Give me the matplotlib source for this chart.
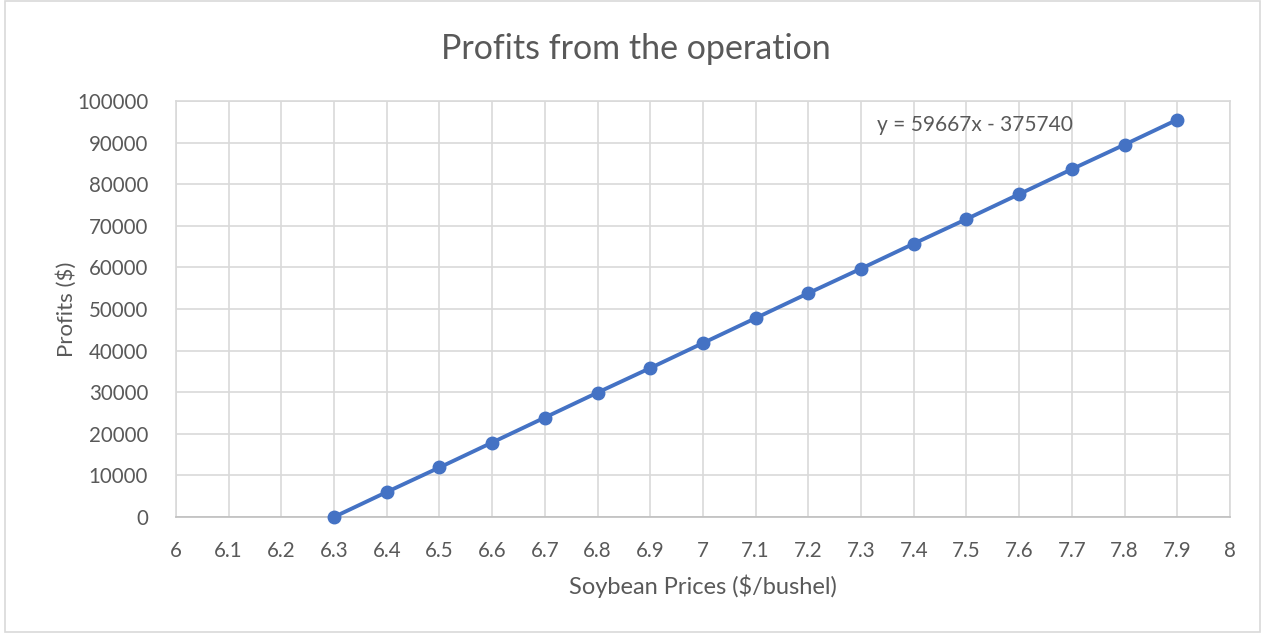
import matplotlib
matplotlib.use("Agg")
import matplotlib.pyplot as plt
from matplotlib.patches import Rectangle

prices = [6.3, 6.4, 6.5, 6.6, 6.7, 6.8, 6.9, 7.0, 7.1, 7.2, 7.3, 7.4, 7.5, 7.6, 7.7, 7.8, 7.9]
profits = [0, 6000, 11900, 17900, 23900, 29900, 35800, 41800, 47800, 53800,
           59700, 65700, 71600, 77600, 83600, 89500, 95500]
x_ticks = [6.0, 6.1, 6.2, 6.3, 6.4, 6.5, 6.6, 6.7, 6.8, 6.9, 7.0, 7.1, 7.2, 7.3, 7.4, 7.5, 7.6, 7.7, 7.8, 7.9, 8.0]
x_labels = ["6", "6.1", "6.2", "6.3", "6.4", "6.5", "6.6", "6.7", "6.8", "6.9", "7",
            "7.1", "7.2", "7.3", "7.4", "7.5", "7.6", "7.7", "7.8", "7.9", "8"]
y_ticks = [0, 10000, 20000, 30000, 40000, 50000, 60000, 70000, 80000, 90000, 100000]

plt.rcParams['font.family'] = ['Lato', 'DejaVu Sans']
text_color = '#595959'
grid_color = '#d9d9d9'
line_color = '#4472C4'

fig = plt.figure(figsize=(12.65, 6.33), dpi=100)
fig.patches.append(Rectangle((0.004, 0.002), 0.992, 0.996, transform=fig.transFigure,
                             fill=False, edgecolor=grid_color, linewidth=1.2))
ax = fig.add_axes([0.1391, 0.1833, 0.8332, 0.6572])

ax.plot(prices, profits, color=line_color, linewidth=2.8, marker='o', markersize=9,
        markerfacecolor=line_color, markeredgecolor=line_color, zorder=3, clip_on=False)

ax.set_xlim(6.0, 8.0)
ax.set_ylim(0, 100000)
ax.set_xticks(x_ticks)
ax.set_xticklabels(x_labels)
ax.set_yticks(y_ticks)
ax.set_yticklabels([str(v) for v in y_ticks])
ax.grid(True, color=grid_color, linewidth=1.2)
ax.set_axisbelow(True)
for s in ['top', 'right', 'left']:
    ax.spines[s].set_color(grid_color)
    ax.spines[s].set_linewidth(1.2)
ax.spines['bottom'].set_color('#bfbfbf')
ax.spines['bottom'].set_linewidth(1.2)
ax.tick_params(axis='both', length=0, colors=text_color, labelsize=14.8)
ax.tick_params(axis='x', pad=17)
ax.tick_params(axis='y', pad=20)

fig.text(0.503, 0.922, 'Profits from the operation', color=text_color, fontsize=24.5,
         ha='center', va='center')
ax.set_xlabel('Soybean Prices ($/bushel)', color=text_color, fontsize=17, labelpad=10)
ax.set_ylabel('Profits ($)', color=text_color, fontsize=16, labelpad=0)

ax.text(7.33, 94300, 'y = 59667x - 375740', color=text_color, fontsize=15,
        ha='left', va='center')

fig.savefig('out.png', dpi=100)
